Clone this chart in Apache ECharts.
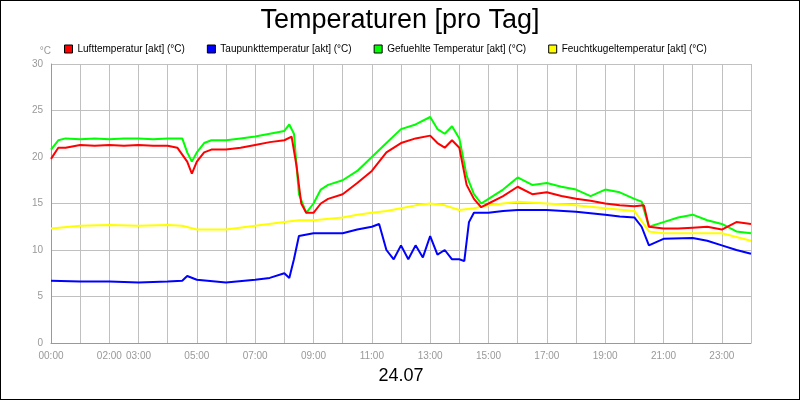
<!DOCTYPE html><html><head><meta charset="utf-8"><script src="https://cdn.jsdelivr.net/npm/echarts@6/dist/echarts.min.js"></script>
<style>body{margin:0}#c{width:798px;height:398px;border:1px solid #000}</style></head><body><div id="c"></div><script>
const names=["Lufttemperatur [akt] (°C)","Taupunkttemperatur [akt] (°C)","Gefuehlte Temperatur [akt] (°C)","Feuchtkugeltemperatur [akt] (°C)"];
const colors=["#ff0000","#0000ff","#00ff00","#ffff00"];
const tickLabels={0:"00:00",2:"02:00",3:"03:00",5:"05:00",7:"07:00",9:"09:00",11:"11:00",13:"13:00",15:"15:00",17:"17:00",19:"19:00",21:"21:00",23:"23:00"};
const redT=[0,0.25,0.5,1,1.5,2,2.5,3,3.5,4,4.33,4.67,4.83,5,5.25,5.5,6,6.5,7,7.5,8,8.25,8.42,8.58,8.75,9,9.25,9.5,10,10.5,11,11.25,11.5,12,12.5,13,13.25,13.5,13.75,14,14.25,14.5,14.75,15,15.5,16,16.5,17,17.5,18,18.5,19,19.5,20,20.33,20.5,21,21.5,22,22.5,23,23.5,24];
const redV=[19.8,21,21,21.3,21.2,21.3,21.2,21.3,21.2,21.2,21,19.5,18.2,19.5,20.5,20.8,20.8,21,21.3,21.6,21.8,22.2,19,15,14,14,15,15.5,16,17.2,18.5,19.5,20.5,21.5,22,22.3,21.5,21,21.8,21,17,15.5,14.6,15,15.8,16.8,16,16.2,15.8,15.5,15.3,15,14.8,14.7,14.8,12.5,12.3,12.3,12.4,12.5,12.2,13,12.8];
const greenT=[0,0.25,0.5,1,1.5,2,2.5,3,3.5,4,4.5,4.67,4.83,5,5.25,5.5,6,6.5,7,7.5,8,8.17,8.33,8.5,8.75,9,9.25,9.5,10,10.5,11,11.5,12,12.5,13,13.25,13.5,13.75,14,14.25,14.5,14.75,15,15.5,16,16.5,17,17.5,18,18.5,19,19.5,20,20.25,20.5,21,21.5,22,22.5,23,23.5,24];
const greenV=[20.8,21.8,22,21.9,22,21.9,22,22,21.9,22,22,20.5,19.5,20.5,21.5,21.8,21.8,22,22.2,22.5,22.8,23.5,22.5,16,14,15,16.5,17,17.5,18.5,20,21.5,23,23.5,24.3,23,22.5,23.3,22,18,16,15,15.5,16.5,17.8,17,17.2,16.8,16.5,15.8,16.5,16.2,15.5,15.2,12.5,13,13.5,13.8,13.2,12.8,12,11.8];
const yellowT=[0,1,2,3,4,4.5,5,6,7,8,8.5,9,10,10.5,11,11.5,12,12.5,13,13.5,14,14.5,15,15.5,16,17,18,19,20,20.5,21,22,23,24];
const yellowV=[12.3,12.6,12.7,12.6,12.7,12.6,12.2,12.2,12.6,13,13.2,13.2,13.5,13.8,14,14.2,14.5,14.8,15,14.8,14.3,14.5,14.8,15,15.2,15,14.8,14.5,14.2,12,11.8,11.8,11.8,11];
const blueT=[0,1,2,3,4,4.5,4.67,5,6,7,7.5,8,8.17,8.33,8.5,9,9.5,10,10.5,11,11.25,11.5,11.75,12,12.25,12.5,12.75,13,13.25,13.5,13.75,14,14.17,14.33,14.5,15,15.5,16,17,18,19,19.5,20,20.25,20.5,21,22,22.5,23,23.5,24];
const blueV=[6.7,6.6,6.6,6.5,6.6,6.7,7.2,6.8,6.5,6.8,7,7.5,7,9,11.5,11.8,11.8,11.8,12.2,12.5,12.8,10,9,10.5,9,10.5,9.2,11.5,9.5,10,9,9,8.8,13,14,14,14.2,14.3,14.3,14.1,13.8,13.6,13.5,12.5,10.5,11.2,11.3,11,10.5,10,9.6];
const pairs=(t,v)=>t.map((x,i)=>[x,v[i]]);
const data=[pairs(redT,redV),pairs(blueT,blueV),pairs(greenT,greenV),pairs(yellowT,yellowV)];
const c=echarts.init(document.getElementById('c'));
c.setOption({animation:false,backgroundColor:'#fff',textStyle:{fontFamily:'Liberation Sans'},
title:{text:'Temperaturen [pro Tag]',left:'center',top:1,textStyle:{fontSize:27,fontWeight:'normal',color:'#000',fontFamily:'Liberation Sans'}},
legend:{top:38,left:58,itemGap:22,itemWidth:8,itemHeight:8,icon:'rect',textStyle:{fontSize:10,color:'#000',fontFamily:'Liberation Sans'},data:names.map((n,i)=>({name:n,itemStyle:{color:colors[i],borderColor:'#000',borderWidth:1}}))},
grid:{left:50,right:48,top:63,bottom:56},
xAxis:{type:'value',min:0,max:24,interval:1,name:'24.07',nameLocation:'middle',nameGap:24,nameTextStyle:{fontSize:18,color:'#000'},
 axisLine:{lineStyle:{color:'#999'}},axisTick:{show:false},splitLine:{lineStyle:{color:'#c0c0c0'}},
 axisLabel:{color:'#999',fontSize:10,formatter:v=>tickLabels[v]||''}},
yAxis:{type:'value',min:0,max:30,interval:5,name:'°C',nameGap:8,nameTextStyle:{color:'#999',fontSize:10,align:'right'},
 axisLine:{show:true,lineStyle:{color:'#999'}},axisTick:{show:false},splitLine:{lineStyle:{color:'#c0c0c0'}},axisLabel:{color:'#999',fontSize:10}},
series:names.map((n,i)=>({name:n,type:'line',data:data[i],showSymbol:false,color:colors[i],lineStyle:{width:2,color:colors[i]},z:[4,3,2,1][i]}))
});
</script></body></html>
